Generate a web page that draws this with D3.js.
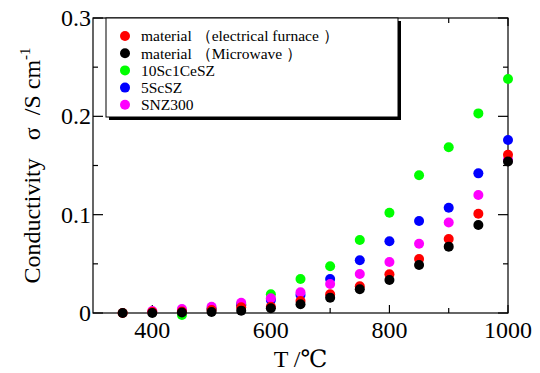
<!DOCTYPE html>
<html>
<head>
<meta charset="utf-8">
<script src="https://cdn.jsdelivr.net/npm/d3@7"></script>
<style>
  body { margin: 0; background: #fff; }
  svg { display: block; }
  text { white-space: pre; font-family: "Liberation Serif", "DejaVu Serif", serif; }
</style>
</head>
<body>
<div id="chart"></div>
<script>
// temperatures (°C) and conductivity (S/cm)
const temps = [350, 400, 450, 500, 550, 600, 650, 700, 750, 800, 850, 900, 950, 1000];
const electrical = [0.0, 0.001, 0.0015, 0.003, 0.0058, 0.0064, 0.0122, 0.019, 0.0272, 0.0394, 0.055, 0.0753, 0.101, 0.161];
const microwave = [0.0, 0.0, 0.0005, 0.001, 0.0024, 0.0048, 0.0089, 0.0156, 0.0241, 0.0336, 0.0488, 0.0675, 0.0895, 0.154];
const sc10ce1 = [null, null, -0.002, 0.004, 0.009, 0.019, 0.0346, 0.0475, 0.0743, 0.102, 0.140, 0.1686, 0.203, 0.238];
const sc5 = [null, null, 0.002, 0.004, 0.008, 0.0132, 0.0183, 0.0346, 0.0536, 0.073, 0.0936, 0.107, 0.142, 0.176];
const snz300 = [null, 0.002, 0.004, 0.0064, 0.0105, 0.015, 0.021, 0.0295, 0.0397, 0.0519, 0.0705, 0.092, 0.120, 0.156];

const xTicks = [400, 600, 800, 1000];
const yTicks = [0, 0.1, 0.2, 0.3];

// legend order
const series = [
  { name: "material （electrical furnace ）", color: "#ff0000", values: electrical },
  { name: "material （Microwave ）", color: "#000000", values: microwave },
  { name: "10Sc1CeSZ", color: "#00ff00", values: sc10ce1 },
  { name: "5ScSZ", color: "#0000ff", values: sc5 },
  { name: "SNZ300", color: "#ff00ff", values: snz300 }
];
// drawing order (last on top)
const drawOrder = ["10Sc1CeSZ", "5ScSZ", "SNZ300", "material （electrical furnace ）", "material （Microwave ）"];

const width = 540, height = 373;
const margin = { top: 18, right: 32, bottom: 60, left: 93 };

const svg = d3.select("#chart").append("svg")
  .attr("width", width)
  .attr("height", height);

const x = d3.scaleLinear().domain([300, 1000]).range([margin.left, width - margin.right]);
const y = d3.scaleLinear().domain([0, 0.3]).range([height - margin.bottom, margin.top]);

const major = 8, minor = 5;
const xMinor = [500, 700, 900];
const yMinor = [0.05, 0.15, 0.25];

// frame
svg.append("rect")
  .attr("x", x(300)).attr("y", y(0.3))
  .attr("width", x(1000) - x(300)).attr("height", y(0) - y(0.3))
  .attr("fill", "none").attr("stroke", "#000").attr("stroke-width", 1.2);

// inward ticks on all four sides
const tickG = svg.append("g").attr("stroke", "#000").attr("stroke-width", 1.2);
xTicks.concat(xMinor).forEach(v => {
  const len = xTicks.includes(v) ? major : minor;
  tickG.append("line").attr("x1", x(v)).attr("x2", x(v)).attr("y1", y(0)).attr("y2", y(0) - len);
  tickG.append("line").attr("x1", x(v)).attr("x2", x(v)).attr("y1", y(0.3)).attr("y2", y(0.3) + len);
});
yTicks.concat(yMinor).forEach(v => {
  const len = yTicks.includes(v) ? major + 2 : minor;
  tickG.append("line").attr("x1", x(300)).attr("x2", x(300) + len).attr("y1", y(v)).attr("y2", y(v));
  tickG.append("line").attr("x1", x(1000)).attr("x2", x(1000) - len).attr("y1", y(v)).attr("y2", y(v));
});

// tick labels
svg.append("g")
  .attr("font-size", 24).attr("text-anchor", "middle")
  .selectAll("text").data(xTicks).join("text")
  .attr("x", d => x(d)).attr("y", y(0) + 25)
  .text(d => d);

svg.append("g")
  .attr("font-size", 24).attr("text-anchor", "end")
  .selectAll("text").data(yTicks).join("text")
  .attr("x", x(300) - 2).attr("y", d => y(d)).attr("dy", "0.33em")
  .text(d => d === 0 ? "0" : d.toFixed(1));

// axis titles
svg.append("text")
  .attr("x", (x(300) + x(1000)) / 2).attr("y", 367)
  .attr("font-size", 24).attr("text-anchor", "middle")
  .text("T /℃");

const yTitle = svg.append("text")
  .attr("transform", `translate(40,${(y(0) + y(0.3)) / 2}) rotate(-90)`)
  .attr("font-size", 24).attr("text-anchor", "middle");
yTitle.append("tspan").text("Conductivity   σ  /S cm");
yTitle.append("tspan").attr("dy", -10).attr("font-size", 15).text("-1");

// points
const byName = new Map(series.map(s => [s.name, s]));
drawOrder.forEach(name => {
  const s = byName.get(name);
  const pts = temps.map((t, i) => ({ t, v: s.values[i] })).filter(d => d.v !== null);
  svg.append("g").selectAll("circle").data(pts).join("circle")
    .attr("cx", d => x(d.t)).attr("cy", d => y(d.v))
    .attr("r", 5).attr("fill", s.color);
});

// legend with drop shadow
const lg = svg.append("g");
const lx = 106, ly = 18, lw = 292, lh = 99;
lg.append("rect").attr("x", lx + 3).attr("y", ly + 3).attr("width", lw).attr("height", lh).attr("fill", "#000");
lg.append("rect").attr("x", lx).attr("y", ly).attr("width", lw).attr("height", lh)
  .attr("fill", "#fff").attr("stroke", "#000").attr("stroke-width", 1);

const rows = lg.selectAll("g.row").data(series).join("g")
  .attr("transform", (d, i) => `translate(${lx + 19},${36 + i * 17.2})`);
rows.append("circle").attr("r", 5).attr("fill", d => d.color);
rows.append("text").attr("x", 16).attr("dy", "0.35em").attr("font-size", 15.5).text(d => d.name);
</script>
</body>
</html>
